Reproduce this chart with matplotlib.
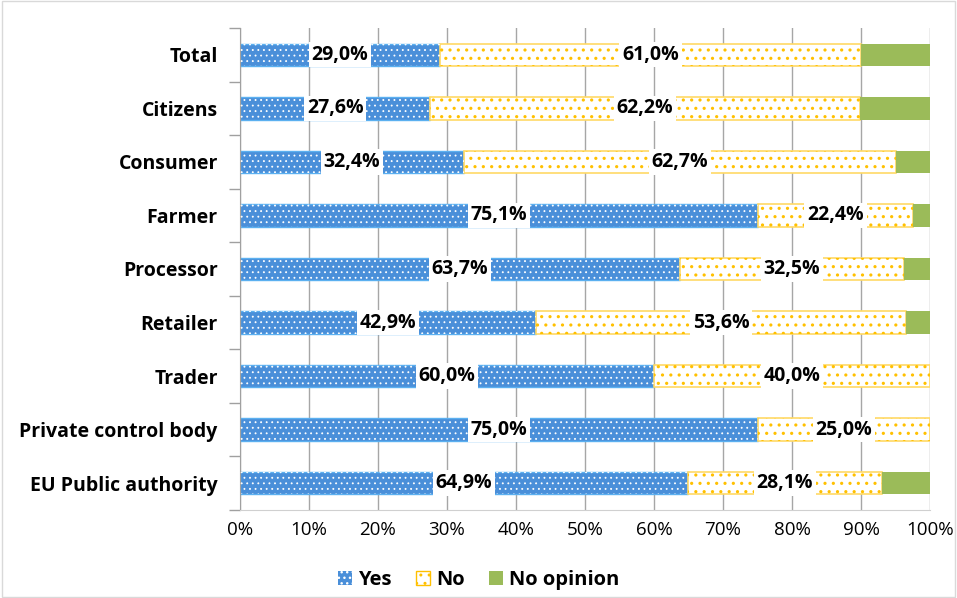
import matplotlib
matplotlib.use("Agg")
import matplotlib.pyplot as plt
from matplotlib.patches import Patch, Rectangle
import numpy as np

categories = ["Total", "Citizens", "Consumer", "Farmer", "Processor", "Retailer",
              "Trader", "Private control body", "EU Public authority"]
yes = [29.0, 27.6, 32.4, 75.1, 63.7, 42.9, 60.0, 75.0, 64.9]
no = [61.0, 62.2, 62.7, 22.4, 32.5, 53.6, 40.0, 25.0, 28.1]
no_opinion = [10.0, 10.2, 4.9, 2.5, 3.8, 3.5, 0.0, 0.0, 7.0]
series_names = ["Yes", "No", "No opinion"]
xticks = [0, 10, 20, 30, 40, 50, 60, 70, 80, 90, 100]

plt.rcParams['font.family'] = ['Open Sans', 'DejaVu Sans']

fig = plt.figure(figsize=(9.57, 5.98), dpi=100)
ax = fig.add_axes([240/957, 1-510/598, 690/957, 482/598])

blue = "#4A8FD9"
yellow = "#FFC000"
yedge = "#FFD966"
green = "#9BBB59"

y = np.arange(len(categories))
h = 0.42
yes_a = np.array(yes); no_a = np.array(no); nop_a = np.array(no_opinion)

ax.barh(y, yes_a, height=h, color=blue, edgecolor="#5BB0F0", linewidth=1, zorder=2)
with plt.rc_context({'hatch.linewidth': 0.6}):
    ax.barh(y, yes_a, height=h, color="none", edgecolor="white", hatch="...", linewidth=0, zorder=3)
ax.barh(y, no_a, left=yes_a, height=h, color="white", edgecolor=yedge, linewidth=1.2, zorder=2)
with plt.rc_context({'hatch.linewidth': 1.1}):
    ax.barh(y, no_a, left=yes_a, height=h, color="none", edgecolor=yellow, hatch="..", linewidth=0, zorder=3)
ax.barh(y, nop_a, left=yes_a + no_a, height=h, color=green, edgecolor="none", zorder=2)

for i in range(len(categories)):
    ax.text(yes_a[i] / 2, y[i], f"{yes_a[i]:.1f}%".replace(".", ","), ha="center", va="center",
            fontsize=14, fontweight="bold", zorder=5,
            bbox=dict(facecolor="white", edgecolor="none", pad=2))
    ax.text(yes_a[i] + no_a[i] / 2, y[i], f"{no_a[i]:.1f}%".replace(".", ","), ha="center", va="center",
            fontsize=14, fontweight="bold", zorder=5,
            bbox=dict(facecolor="white", edgecolor="none", pad=2))

ax.set_xlim(0, 100)
ax.set_ylim(len(categories) - 0.5, -0.5)
ax.set_xticks(xticks)
ax.set_xticklabels([f"{t}%" for t in xticks], fontsize=13.5)
ax.set_yticks(y)
ax.set_yticklabels(categories, fontsize=14, fontweight="bold")
ax.set_yticks(np.arange(-0.5, len(categories), 1), minor=True)
ax.tick_params(axis="y", which="major", length=0, pad=16)
ax.tick_params(axis="y", which="minor", length=8, color="#A0A0A0", width=1)
ax.tick_params(axis="x", length=0, pad=8)
ax.grid(axis="x", color="#A6A6A6", linewidth=1, zorder=0)
ax.set_axisbelow(True)
for s in ["top", "right"]:
    ax.spines[s].set_visible(False)
ax.spines["left"].set_color("#A0A0A0")
ax.spines["bottom"].set_color("#D0D0D0")

with plt.rc_context({'hatch.linewidth': 0.6}):
    h1 = Patch(facecolor=blue, edgecolor="white", hatch="...", linewidth=0)
with plt.rc_context({'hatch.linewidth': 1.1}):
    h2 = Patch(facecolor="white", edgecolor=yellow, hatch="..", linewidth=1)
h3 = Patch(facecolor=green, edgecolor="none")
leg = fig.legend([h1, h2, h3], series_names, loc="center", bbox_to_anchor=(0.5, 1-580/598), ncol=3,
                 frameon=False, prop={"weight": "bold", "size": 14.5}, handlelength=0.7,
                 handleheight=0.7, columnspacing=1.2, handletextpad=0.3)

fig.patches.append(Rectangle((0.002, 0.002), 0.996, 0.996, transform=fig.transFigure,
                             fill=False, edgecolor="#D9D9D9", linewidth=1))

fig.savefig("out.png", dpi=100)
